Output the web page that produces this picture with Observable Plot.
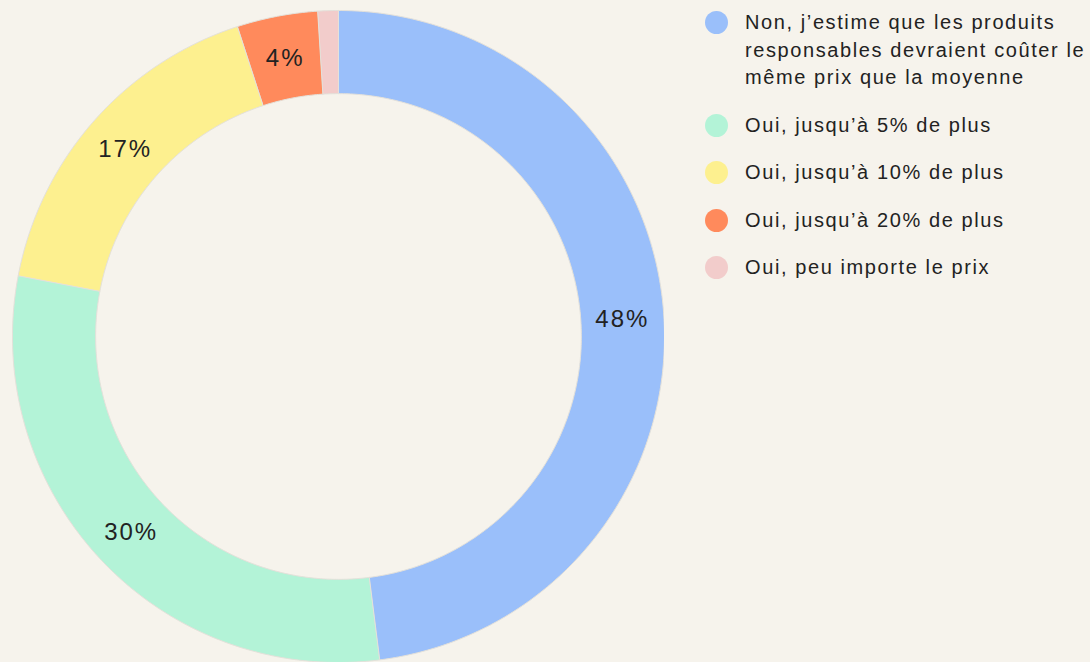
<!DOCTYPE html>
<html>
<head>
<meta charset="utf-8">
<script src="https://cdn.jsdelivr.net/npm/d3@7"></script>
<script src="https://cdn.jsdelivr.net/npm/@observablehq/plot@0.6"></script>
<style>
  html, body { margin: 0; padding: 0; background: #f6f3ec; width: 1090px; height: 662px; overflow: hidden; }
  #wrap { position: relative; width: 1090px; height: 662px; font-family: "Liberation Sans", Arial, sans-serif; }
  #chart { position: absolute; left: 0; top: 0; }
  #legend { position: absolute; left: 705px; top: 9px; width: 385px; }
  .item { display: flex; align-items: flex-start; margin-bottom: 20px; }
  .sw { width: 23px; height: 23px; border-radius: 50%; flex: 0 0 23px; margin-top: 2px; margin-right: 17px; }
  .lab { font-size: 20px; line-height: 27.5px; color: #222; letter-spacing: 1.6px; white-space: nowrap; }
</style>
</head>
<body>
<div id="wrap">
  <div id="chart"></div>
  <div id="legend"></div>
</div>
<script>
const categories = [
  "Non, j’estime que les produits responsables devraient coûter le même prix que la moyenne",
  "Oui, jusqu’à 5% de plus",
  "Oui, jusqu’à 10% de plus",
  "Oui, jusqu’à 20% de plus",
  "Oui, peu importe le prix"
];
const legendLines = [
  ["Non, j’estime que les produits", "responsables devraient coûter le", "même prix que la moyenne"],
  ["Oui, jusqu’à 5% de plus"],
  ["Oui, jusqu’à 10% de plus"],
  ["Oui, jusqu’à 20% de plus"],
  ["Oui, peu importe le prix"]
];
const values = [48, 30, 17, 4, 1];
const labels = ["48%", "30%", "17%", "4%", ""];
const colors = ["#9abffa", "#b3f3d7", "#fdf08f", "#ff8a5c", "#f2cccb"];

const innerR = 0.745, outerR = 1;
const pie = d3.pie().sort(null).value(d => d)(values);

function pt(angle, r) { return [r * Math.sin(angle), r * Math.cos(angle)]; }

const features = pie.map((p, i) => {
  const n = Math.max(4, Math.ceil((p.endAngle - p.startAngle) / 0.01));
  const ring = [];
  for (let k = 0; k <= n; k++) ring.push(pt(p.startAngle + (p.endAngle - p.startAngle) * k / n, outerR));
  for (let k = n; k >= 0; k--) ring.push(pt(p.startAngle + (p.endAngle - p.startAngle) * k / n, innerR));
  ring.push(ring[0]);
  return { type: "Feature", properties: { category: categories[i] }, geometry: { type: "Polygon", coordinates: [ring] } };
});

const labelData = pie.map((p, i) => {
  const a = (p.startAngle + p.endAngle) / 2;
  const [x, y] = pt(a, (innerR + outerR) / 2);
  return { x, y, label: labels[i] };
});

const domainBox = { type: "Polygon", coordinates: [[[-1, -1], [1, -1], [1, 1], [-1, 1], [-1, -1]]] };

const chart = Plot.plot({
  width: 664,
  height: 662,
  marginTop: 10,
  marginLeft: 12,
  marginRight: 0,
  marginBottom: 0,
  projection: { type: "reflect-y", domain: domainBox, inset: 0 },
  color: { domain: categories, range: colors },
  style: { background: "transparent", fontFamily: "Liberation Sans, Arial, sans-serif", letterSpacing: "2px" },
  marks: [
    Plot.geo(features, { fill: d => d.properties.category, stroke: "#e4e1da", strokeWidth: 1 }),
    Plot.text(labelData, { x: "x", y: "y", text: "label", fontSize: 24, fill: "#222", dy: 1 })
  ]
});
document.getElementById("chart").appendChild(chart);

const legend = document.getElementById("legend");
legendLines.forEach((lines, i) => {
  const item = document.createElement("div");
  item.className = "item";
  const sw = document.createElement("div");
  sw.className = "sw";
  sw.style.background = colors[i];
  const lab = document.createElement("div");
  lab.className = "lab";
  lines.forEach((l, j) => {
    if (j) lab.appendChild(document.createElement("br"));
    lab.appendChild(document.createTextNode(l));
  });
  item.appendChild(sw);
  item.appendChild(lab);
  legend.appendChild(item);
});
</script>
</body>
</html>
